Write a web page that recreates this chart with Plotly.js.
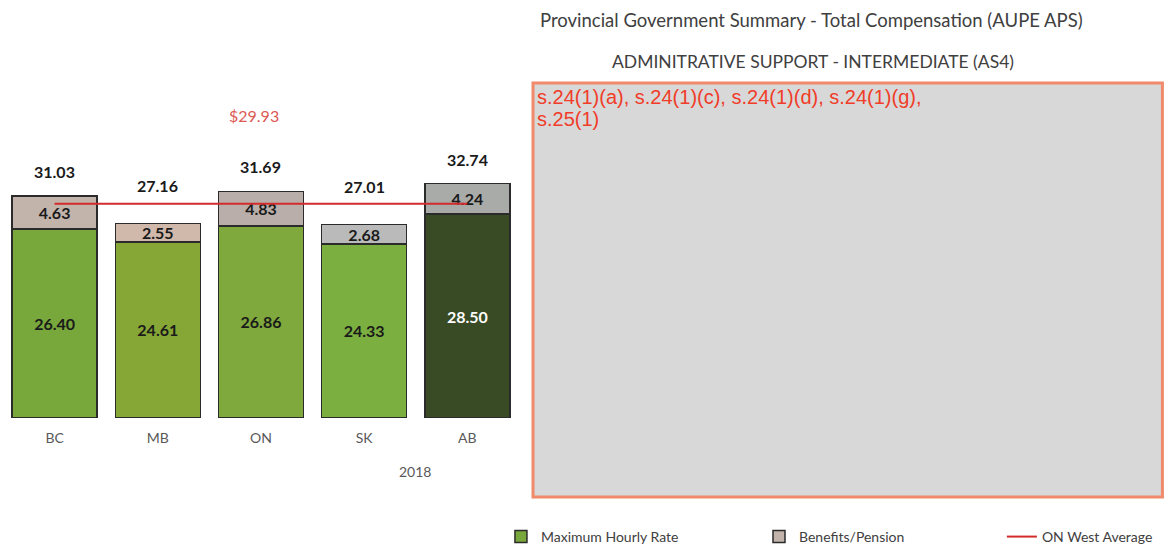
<!DOCTYPE html>
<html>
<head>
<meta charset="utf-8">
<script src="https://cdn.plot.ly/plotly-3.0.1.min.js"></script>
<style>
  html, body { margin: 0; padding: 0; background: #fff; }
  #chart { width: 1165px; height: 546px; }
</style>
</head>
<body>
<div id="chart"></div>
<script>
/**
 * Data
 */
const provinces = ['BC', 'MB', 'ON', 'SK', 'AB'];
const hourly_rate = [26.40, 24.61, 26.86, 24.33, 28.50];
const benefits = [4.63, 2.55, 4.83, 2.68, 4.24];
const totals = [31.03, 27.16, 31.69, 27.01, 32.74];
const west_average = 29.93;
const year_label = '2018';

/**
 * Colors
 */
const rateColors = ['#78a83c', '#86a636', '#7fa93c', '#7bb040', '#384b25'];
const benefitColors = ['#c2b4ab', '#d0b9aa', '#b9aea9', '#bababa', '#a9aba8'];
const outline = '#2b2b2b';
const red = '#d22b2b';
const textGrey = '#404040';

const font = 'Lato, "Open Sans", sans-serif';

function compChart() {
    var rate = {
        type: 'bar',
        x: provinces,
        y: hourly_rate,
        name: 'Maximum Hourly Rate',
        legend: 'legend',
        marker: {color: rateColors, line: {color: outline, width: 1.5}},
        text: hourly_rate.map(v => v.toFixed(2)),
        textposition: 'inside',
        insidetextanchor: 'middle',
        constraintext: 'none',
        textangle: 0,
        textfont: {
            family: font, size: 16, weight: 'bold',
            color: hourly_rate.map((v, i) => i === 4 ? '#ffffff' : '#1a1a1a')
        },
        hoverinfo: 'x+y'
    };

    var bens = {
        type: 'bar',
        x: provinces,
        y: benefits,
        name: 'Benefits/Pension',
        legend: 'legend2',
        marker: {color: benefitColors, line: {color: outline, width: 1.5}},
        text: benefits.map(v => v.toFixed(2)),
        textposition: 'inside',
        insidetextanchor: 'middle',
        constraintext: 'none',
        textangle: 0,
        textfont: {family: font, size: 16, weight: 'bold', color: '#1a1a1a'},
        hoverinfo: 'x+y'
    };

    var avg = {
        type: 'scatter',
        mode: 'lines',
        x: [provinces[0], provinces[provinces.length - 1]],
        y: [west_average, west_average],
        name: 'ON West Average',
        legend: 'legend3',
        line: {color: red, width: 2}
    };

    // total labels above each stack
    var annotations = provinces.map((p, i) => ({
        x: p, y: totals[i], xref: 'x', yref: 'y',
        text: totals[i].toFixed(2),
        showarrow: false, xanchor: 'center', yanchor: 'bottom',
        yshift: totals[i] < west_average ? 27 : 13,
        font: {family: font, size: 16, weight: 'bold', color: '#1a1a1a'}
    }));

    var note = (text, x, y, size, color) => ({
        text: text, xref: 'paper', yref: 'paper', x: x, y: y,
        xanchor: 'center', yanchor: 'middle', showarrow: false,
        font: {family: font, size: size, color: color}
    });

    annotations.push(
        note('$' + west_average.toFixed(2), 0.2164, 0.7225, 16, '#dc5a55'),
        note(year_label, 0.355, -0.1268, 14, '#595959'),
        note('Provincial Government Summary - Total Compensation (AUPE APS)', 0.697, 0.952, 18.5, textGrey),
        note('ADMINITRATIVE SUPPORT - INTERMEDIATE (AS4)', 0.698, 0.852, 17.5, textGrey)
    );

    // redaction text inside the grey box, one annotation per line
    ['s.24(1)(a), s.24(1)(c), s.24(1)(d), s.24(1)(g),', 's.25(1)'].forEach((t, i) => {
        annotations.push({
            text: t, xref: 'paper', yref: 'paper',
            x: 0.4586, y: 0.768 - i * 0.0526,
            xanchor: 'left', yanchor: 'middle', showarrow: false,
            font: {family: '"Liberation Sans", Arial, sans-serif', size: 20, color: '#f03c28'}
        });
    });

    var legendBase = {
        orientation: 'h', xref: 'container', yref: 'container',
        yanchor: 'middle', xanchor: 'left', bgcolor: 'rgba(0,0,0,0)',
        font: {family: font, size: 14, color: textGrey}
    };

    var layout = {
        width: 1165,
        height: 546,
        margin: {l: 3, r: 2, t: 0, b: 128},
        paper_bgcolor: '#ffffff',
        plot_bgcolor: '#ffffff',
        barmode: 'stack',
        bargap: 0.177,
        showlegend: true,
        xaxis: {
            domain: [0, 0.4448],
            range: [-0.5, 4.5],
            showgrid: false, zeroline: false, showline: false,
            ticks: '', ticklabelstandoff: 10,
            tickfont: {family: font, size: 14, color: '#595959'}
        },
        yaxis: {
            range: [0, 58.42],
            visible: false, showgrid: false, zeroline: false
        },
        legend: Object.assign({}, legendBase, {x: 0.430, y: 0.0165}),
        legend2: Object.assign({}, legendBase, {x: 0.6515, y: 0.0165}),
        legend3: Object.assign({}, legendBase, {x: 0.860, y: 0.0165}),
        shapes: [{
            type: 'rect', xref: 'paper', yref: 'paper',
            x0: 0.4569, x1: 0.9995, y0: -0.189, y1: 0.8014,
            fillcolor: '#d8d8d8',
            line: {color: '#f08a6a', width: 3},
            layer: 'below'
        }],
        annotations: annotations
    };

    Plotly.newPlot('chart', [rate, bens, avg], layout, {displayModeBar: false, responsive: false});
}

compChart();
</script>
</body>
</html>
